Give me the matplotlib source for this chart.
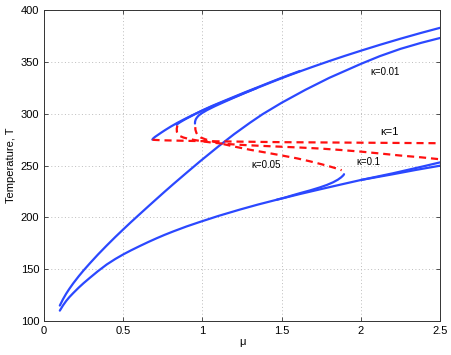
import numpy as np
import matplotlib
matplotlib.use("Agg")
import matplotlib.pyplot as plt

plt.rcParams['font.family'] = ['Liberation Sans', 'DejaVu Sans']

# lower stable branch (shared)
mu_low = [0.1, 0.12, 0.14, 0.16, 0.185, 0.22, 0.25, 0.29, 0.34, 0.396, 0.45, 0.5, 0.55, 0.606, 0.66,
          0.711, 0.76, 0.816, 0.9, 0.985, 1.1, 1.237, 1.35, 1.47, 1.616, 1.742, 1.87, 2.0, 2.2, 2.35, 2.5]
T_low = [110, 115, 119.3, 123, 127, 132.3, 136.5, 141.7, 148, 154.5, 159.8, 164.2, 168.2, 172.4, 176.3,
         179.8, 183, 186.4, 191.2, 195.6, 201.3, 207.5, 212.3, 217, 222.5, 227, 231.5, 236, 241.5, 245.8, 249.8]

# lower branch kappa=0.1 near the right edge
mu_low01 = [2.0, 2.1, 2.2, 2.3, 2.4, 2.5]
T_low01 = [236, 239.2, 242.4, 245.9, 249.4, 253]

# lower branch kappa=0.05 going to its fold
mu_low005 = [1.47, 1.52, 1.57, 1.62, 1.68, 1.74, 1.785, 1.825, 1.855, 1.876, 1.89, 1.894]
T_low005 = [217, 219, 221.3, 223.5, 226, 228.8, 231.2, 233.8, 236.3, 238.6, 240.6, 241.6]

# kappa=0.01 (no fold)
mu_k001 = [0.1, 0.12, 0.14, 0.16, 0.185, 0.22, 0.25, 0.29, 0.34, 0.396, 0.45, 0.5, 0.55, 0.606, 0.66,
           0.711, 0.76, 0.816, 0.9, 0.985, 1.1, 1.2, 1.3, 1.38, 1.5, 1.65, 1.8, 2.0, 2.12, 2.25, 2.38, 2.5]
T_k001 = [114.9, 121, 126.3, 131, 136.4, 143.3, 148.8, 155.7, 164, 172.8, 181, 188.3, 195.5, 203.3, 210.8,
          217.8, 224.5, 232, 243, 254, 268.3, 280.2, 291.2, 299.5, 310.5, 323, 334.5, 348, 355.5, 362.5, 368.3, 373]

# upper stable branches
mu_up1 = [0.684, 0.69, 0.7, 0.72, 0.74, 0.764, 0.8, 0.84, 0.88, 0.922, 0.96, 1.0, 1.06, 1.132, 1.2, 1.27,
          1.343, 1.42, 1.49, 1.55, 1.616, 1.7, 1.8, 1.9, 2.006, 2.12, 2.25, 2.38, 2.5]
T_up1 = [275, 276.2, 277.5, 279.6, 281.7, 284.1, 287.5, 291, 294.2, 297.4, 300.2, 303, 307, 311.6, 315.8, 320.2,
         324.7, 329.4, 333.6, 337.1, 340.8, 345.4, 350.7, 355.8, 361, 366.4, 372.3, 377.9, 382.8]

mu_up01 = [0.838, 0.845, 0.86, 0.88, 0.9, 0.95, 1.0, 1.06, 1.132, 1.2, 1.27, 1.343, 1.42, 1.49, 1.55, 1.616]
T_up01 = [289.2, 290.3, 291.8, 293.6, 295.3, 299.3, 303.2, 307.4, 312, 316.3, 320.7, 325.1, 329.8, 334, 337.5, 341.2]

mu_up005 = [0.953, 0.954, 0.958, 0.965, 0.975, 0.99, 1.0, 1.03, 1.08, 1.132, 1.2, 1.27, 1.343]
T_up005 = [290.5, 292.5, 294.5, 296.2, 298, 299.8, 300.8, 303.5, 307.3, 310.9, 315.5, 320.1, 324.7]

# unstable branches (dashed)
mu_un1 = [0.685, 0.75, 0.9, 1.0, 1.25, 1.5, 2.0, 2.5]
T_un1 = [274.8, 274.3, 273.8, 273.5, 273, 272.5, 272, 271.5]

mu_un01 = [0.842, 0.838, 0.839, 0.846, 0.86, 0.88, 0.91, 0.95, 1.0, 1.05, 1.12, 1.19, 1.27, 1.35, 1.5,
           1.62, 1.75, 1.87, 2.0, 2.12, 2.25, 2.38, 2.5]
T_un01 = [288.5, 285.5, 282.5, 280.2, 278.3, 277, 275.8, 274.6, 273.3, 272.3, 271.2, 270.4, 269.7, 269.1, 268.1,
          267.3, 266.3, 265, 263.4, 261.6, 259.6, 257.9, 256]

mu_un005 = [0.955, 0.956, 0.962, 0.972, 0.99, 1.02, 1.07, 1.143, 1.2, 1.3, 1.4, 1.49, 1.6, 1.68, 1.75,
            1.806, 1.845, 1.868, 1.879]
T_un005 = [287, 284.5, 281.5, 279, 277, 275.2, 273, 270.3, 268.3, 265.2, 262.5, 260, 256.8, 254, 251.3,
           249, 247.2, 246.1, 245.4]

labels = ['κ=0.01', 'κ=1', 'κ=0.1', 'κ=0.05']
label_mu = [2.15, 2.18, 2.05, 1.40]
label_T = [340.5, 282, 253, 250.5]
label_size = [7, 8, 7, 7]

blue = '#2b48ff'
red = '#ff1010'

fig = plt.figure(figsize=(4.52, 3.55), dpi=100)
ax = fig.add_axes([0.0973, 0.0958, 0.8762, 0.876])

for m, t in [(mu_low, T_low), (mu_low01, T_low01), (mu_low005, T_low005), (mu_k001, T_k001),
             (mu_up1, T_up1), (mu_up01, T_up01), (mu_up005, T_up005)]:
    ax.plot(m, t, color=blue, lw=1.6, solid_capstyle='round', solid_joinstyle='round')

for m, t in [(mu_un1, T_un1), (mu_un01, T_un01), (mu_un005, T_un005)]:
    ax.plot(m, t, color=red, lw=1.6, ls=(0, (3.2, 2.2)))

for s, x, y, fs in zip(labels, label_mu, label_T, label_size):
    ax.text(x, y, s, fontsize=fs, ha='center', va='center')

ax.set_xlim(0, 2.5)
ax.set_ylim(100, 400)
ax.set_xticks([0, 0.5, 1, 1.5, 2, 2.5])
ax.set_xticklabels(['0', '0.5', '1', '1.5', '2', '2.5'])
ax.set_yticks([100, 150, 200, 250, 300, 350, 400])
ax.tick_params(direction='in', top=True, right=True, labelsize=8, length=3, width=0.6,
               color='#333333')
ax.grid(True, ls=(0, (1, 2.5)), color='#bdbdbd', lw=0.7)
for sp in ax.spines.values():
    sp.set_linewidth(0.7)
    sp.set_color('#333333')
ax.set_xlabel('μ', fontsize=8, labelpad=1)
ax.set_ylabel('Temperature, T', fontsize=8, labelpad=3)

fig.savefig('out.png', dpi=100)
